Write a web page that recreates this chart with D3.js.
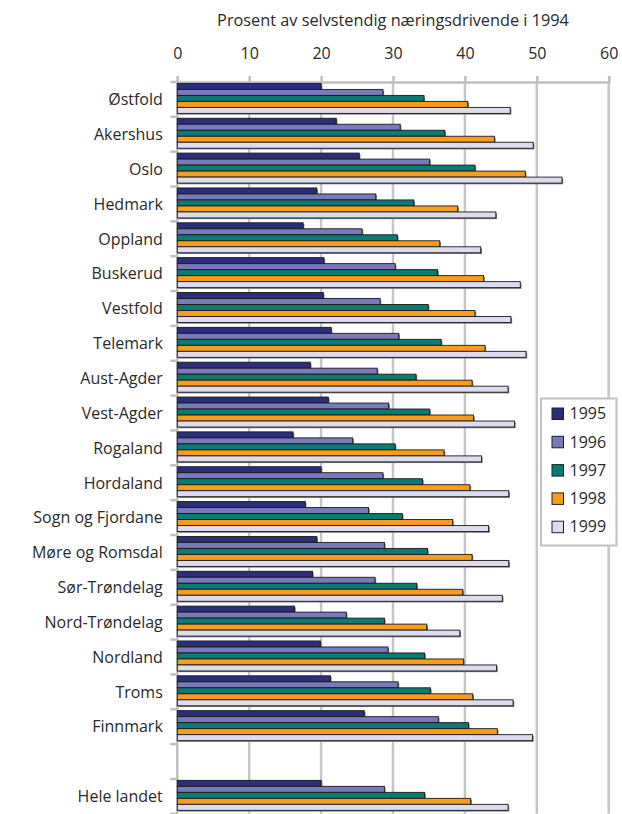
<!DOCTYPE html>
<html>
<head>
<meta charset="utf-8">
<script src="https://cdn.jsdelivr.net/npm/d3@7"></script>
<style>
  body { margin: 0; background: #fff; }
  text { font-family: "Open Sans", "Noto Sans", sans-serif; fill: #2a2a2a; }
</style>
</head>
<body>
<div id="chart"></div>
<script>
// Data
var regions = ["Østfold", "Akershus", "Oslo", "Hedmark", "Oppland", "Buskerud", "Vestfold",
  "Telemark", "Aust-Agder", "Vest-Agder", "Rogaland", "Hordaland", "Sogn og Fjordane",
  "Møre og Romsdal", "Sør-Trøndelag", "Nord-Trøndelag", "Nordland", "Troms", "Finnmark",
  "", "Hele landet"];
var years = ["1995", "1996", "1997", "1998", "1999"];
var v1995 = [20.0, 22.1, 25.3, 19.4, 17.5, 20.4, 20.3, 21.4, 18.5, 21.0, 16.1, 20.0, 17.8, 19.4, 18.8, 16.3, 19.9, 21.3, 26.0, null, 20.0];
var v1996 = [28.6, 31.0, 35.1, 27.6, 25.7, 30.3, 28.2, 30.8, 27.8, 29.4, 24.4, 28.6, 26.6, 28.8, 27.5, 23.5, 29.3, 30.7, 36.3, null, 28.8];
var v1997 = [34.3, 37.2, 41.4, 32.9, 30.6, 36.2, 34.9, 36.7, 33.2, 35.1, 30.3, 34.1, 31.3, 34.8, 33.3, 28.8, 34.4, 35.2, 40.5, null, 34.4];
var v1998 = [40.4, 44.1, 48.4, 39.0, 36.5, 42.6, 41.4, 42.8, 41.0, 41.2, 37.1, 40.7, 38.3, 41.0, 39.7, 34.7, 39.8, 41.1, 44.5, null, 40.8];
var v1999 = [46.3, 49.5, 53.5, 44.3, 42.2, 47.7, 46.4, 48.5, 46.0, 46.9, 42.3, 46.1, 43.3, 46.1, 45.2, 39.3, 44.4, 46.7, 49.4, null, 46.0];
var xTicks = [0, 10, 20, 30, 40, 50, 60];
var series = [v1995, v1996, v1997, v1998, v1999];
var colors = ["#2b2e7d", "#7a7abb", "#0b7a72", "#f79c1e", "#dcdcee"];

var svgWidth = 622;
var svgHeight = 814;

var svg = d3.select("#chart")
  .append("svg")
  .attr("width", svgWidth)
  .attr("height", svgHeight);

// Scales
var keys = regions.map((d, i) => i);
var x = d3.scaleLinear().domain([0, 60]).range([177.3, 608.7]);
var y = d3.scaleBand().domain(keys).range([82, 813.8]);
var barH = 6;
var y5 = d3.scaleBand().domain(years).range([1.4, 1.4 + barH * years.length]);

// Gridlines
svg.append("g")
  .selectAll("line")
  .data(xTicks.slice(1))
  .enter()
  .append("line")
  .attr("x1", d => x(d)).attr("x2", d => x(d))
  .attr("y1", 82).attr("y2", 813.8)
  .attr("stroke", "#c6c6c6")
  .attr("stroke-width", 2.5);

// Top axis
var topAxis = svg.append("g")
  .attr("transform", "translate(0,82)")
  .call(d3.axisTop(x).tickValues(xTicks).tickSize(6).tickPadding(17));
topAxis.select(".domain").attr("stroke", "#c0c0c0").attr("stroke-width", 2.5);
topAxis.selectAll(".tick line").attr("stroke", "#c0c0c0").attr("stroke-width", 2.5);
topAxis.selectAll(".tick text")
  .attr("font-size", "16px")
  .attr("fill", "#2a2a2a")
  .style("font-family", "'Open Sans', sans-serif");

// Title
svg.append("text")
  .attr("x", (x(0) + x(60)) / 2)
  .attr("y", 26)
  .attr("text-anchor", "middle")
  .attr("font-size", "16.3px")
  .text("Prosent av selvstendig næringsdrivende i 1994");

// Left axis line + boundary ticks
var bounds = keys.map(k => y(k)).concat([y.range()[1]]);
svg.append("line")
  .attr("x1", x(0)).attr("x2", x(0))
  .attr("y1", 82).attr("y2", 813.8)
  .attr("stroke", "#c0c0c0").attr("stroke-width", 2.5);
svg.append("g")
  .selectAll("line")
  .data(bounds)
  .enter()
  .append("line")
  .attr("x1", x(0) - 7).attr("x2", x(0))
  .attr("y1", d => d).attr("y2", d => d)
  .attr("stroke", "#c0c0c0").attr("stroke-width", 2.5);

// Category labels
svg.append("g")
  .selectAll("text")
  .data(keys)
  .enter()
  .append("text")
  .attr("x", x(0) - 14.5)
  .attr("y", d => y(d) + y.bandwidth() / 2)
  .attr("dy", "0.36em")
  .attr("text-anchor", "end")
  .attr("font-size", "16px")
  .text(d => regions[d]);

// Bars
var barData = [];
keys.forEach(function(k) {
  series.forEach(function(s, j) {
    if (s[k] != null) barData.push({ k: k, year: years[j], j: j, value: s[k] });
  });
});

var barsGroup = svg.append("g");
// shadows
barsGroup.selectAll("rect.shadow")
  .data(barData)
  .enter()
  .append("rect")
  .attr("class", "shadow")
  .attr("x", x(0) + 1.2)
  .attr("y", d => y(d.k) + y5(d.year) + 1.2)
  .attr("width", d => x(d.value) - x(0))
  .attr("height", barH)
  .attr("fill", "#7a7a7a");
barsGroup.selectAll("rect.bar")
  .data(barData)
  .enter()
  .append("rect")
  .attr("class", "bar")
  .attr("x", x(0))
  .attr("y", d => y(d.k) + y5(d.year))
  .attr("width", d => x(d.value) - x(0))
  .attr("height", barH)
  .attr("fill", d => colors[d.j])
  .attr("stroke", "#1a1a1a")
  .attr("stroke-width", 0.9);

// Legend
var legend = svg.append("g").attr("transform", "translate(541,398.5)");
legend.append("rect")
  .attr("width", 75.5).attr("height", 147)
  .attr("fill", "#fff")
  .attr("stroke", "#c0c0c0")
  .attr("stroke-width", 2);
var items = legend.selectAll("g.item")
  .data(years)
  .enter()
  .append("g")
  .attr("transform", (d, i) => `translate(11,${15 + i * 28.3})`);
items.append("rect")
  .attr("x", 0).attr("y", -5.5)
  .attr("width", 11.5).attr("height", 11.5)
  .attr("fill", (d, i) => colors[i])
  .attr("stroke", "#222")
  .attr("stroke-width", 1);
items.append("text")
  .attr("x", 17.5)
  .attr("dy", "0.36em")
  .attr("font-size", "16px")
  .text(d => d);
</script>
</body>
</html>
